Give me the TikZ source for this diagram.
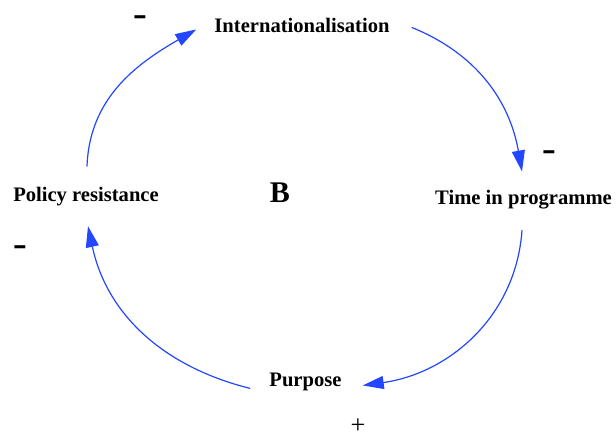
\documentclass[tikz,border=0pt]{standalone}
\usepackage{fontspec}
\setmainfont{Liberation Serif}
\newfontfamily\signfont{Liberation Sans}
\usetikzlibrary{arrows.meta,calc}
\definecolor{loopblue}{RGB}{35,70,255}
\newcommand{\minussign}{\scalebox{1}[1.4]{–}}
\tikzset{
  var/.style={inner sep=0pt, anchor=base, font=\fontsize{20.6}{22}\selectfont\bfseries},
  sign/.style={inner sep=0pt, font=\signfont\fontsize{22}{24}\selectfont\bfseries},
  plussign/.style={inner sep=0pt, font=\fontsize{26}{28}\selectfont},
  link/.style={draw=loopblue, line width=1.2pt, -{Triangle[length=21pt,width=13pt]}}
}
\begin{document}
\begin{tikzpicture}[x=1pt,y=1pt]
\useasboundingbox (0,0) rectangle (616,438);
\node[var] (int) at (302,405.5) {Internationalisation};
\node[var] (tip) at (523.5,233) {Time in programme};
\node[var] (pr) at (86,236) {Policy resistance};
\node[var] (pur) at (305.5,51) {Purpose};
\node[var, font=\fontsize{30}{32}\selectfont\bfseries] (B) at (280,235) {B};
\node[sign] (m1) at (140,417) {\minussign};
\node[sign] (m2) at (549,282) {\minussign};
\node[sign] (m3) at (20,187) {\minussign};
\node[plussign] (p1) at (358,11.5) {+};
\draw[link] ($(pr.north)+(1,21)$) to[out=88,in=210] ($(int.west)+(-18,-4)$);
\draw[link] ($(int.east)+(22,-2)$) to[out=-22,in=100] ($(tip.north)+(-1.5,19)$);
\draw[link] ($(tip.south)+(-1.5,-20.5)$) to[out=266,in=8] ($(pur.east)+(21,-3)$);
\draw[link] ($(pur.west)+(-19,-6)$) to[out=166,in=282] ($(pr.south)+(2,-19.5)$);
\end{tikzpicture}
\end{document}
